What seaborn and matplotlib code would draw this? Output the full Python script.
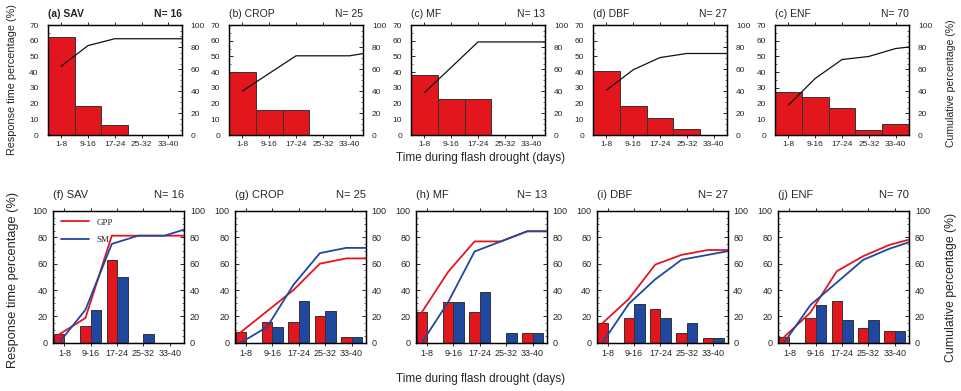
import numpy as np
import pandas as pd
import matplotlib
matplotlib.use("Agg")
import matplotlib.pyplot as plt
import seaborn as sns
from matplotlib.ticker import MultipleLocator, AutoMinorLocator

# ---------------- data ----------------
categories = ['1-8', '9-16', '17-24', '25-32', '33-40']
top_titles = ['(a) SAV', '(b) CROP', '(c) MF', '(d) DBF', '(c) ENF']
bottom_titles = ['(f) SAV', '(g) CROP', '(h) MF', '(i) DBF', '(j) ENF']
sample_sizes = [16, 25, 13, 27, 70]

# top row: response time percentage per bin
top_sav = [62.5, 18.75, 6.25, 0, 0]
top_crop = [40, 16, 16, 0, 0]
top_mf = [38.5, 23.1, 23.1, 0, 0]
top_dbf = [40.7, 18.5, 11.1, 3.7, 0]
top_enf = [27.1, 24.3, 17.1, 2.9, 7.1]
# top row cumulative (5 bins + beyond 40 days)
topcum_sav = [62.5, 81.25, 87.5, 87.5, 87.5, 87.5]
topcum_crop = [40, 56, 72, 72, 72, 76]
topcum_mf = [38.5, 61.5, 84.6, 84.6, 84.6, 84.6]
topcum_dbf = [40.7, 59.3, 70.4, 74.1, 74.1, 74.1]
topcum_enf = [27.1, 51.4, 68.6, 71.4, 78.6, 81.4]

# bottom row: GPP and SM percentages
gpp_sav = [6.25, 12.5, 62.5, 0, 0]
gpp_crop = [8, 16, 16, 20, 4]
gpp_mf = [23.1, 30.8, 23.1, 0, 7.7]
gpp_dbf = [14.8, 18.5, 25.9, 7.4, 3.7]
gpp_enf = [4.3, 18.6, 31.4, 11.4, 8.6]
sm_sav = [0, 25, 50, 6.25, 0]
sm_crop = [0, 12, 32, 24, 4]
sm_mf = [0, 30.8, 38.5, 7.7, 7.7]
sm_dbf = [0, 29.6, 18.5, 14.8, 3.7]
sm_enf = [0, 28.6, 17.1, 17.1, 8.6]
# bottom row cumulative (5 bins + beyond 40 days)
gppcum_sav = [6.25, 18.75, 81.25, 81.25, 81.25, 81.25]
gppcum_crop = [8, 24, 40, 60, 64, 64]
gppcum_mf = [23.1, 53.8, 76.9, 76.9, 84.6, 84.6]
gppcum_dbf = [14.8, 33.3, 59.3, 66.7, 70.4, 70.4]
gppcum_enf = [4.3, 22.9, 54.3, 65.7, 74.3, 79.6]
smcum_sav = [0, 25, 75, 81.25, 81.25, 87.5]
smcum_crop = [0, 12, 44, 68, 72, 72]
smcum_mf = [0, 30.8, 69.2, 76.9, 84.6, 84.6]
smcum_dbf = [0, 29.6, 48.1, 63.0, 66.7, 70.4]
smcum_enf = [0, 28.6, 45.7, 62.9, 71.4, 78.0]

top_vals = [top_sav, top_crop, top_mf, top_dbf, top_enf]
top_cums = [topcum_sav, topcum_crop, topcum_mf, topcum_dbf, topcum_enf]
gpp_vals = [gpp_sav, gpp_crop, gpp_mf, gpp_dbf, gpp_enf]
sm_vals = [sm_sav, sm_crop, sm_mf, sm_dbf, sm_enf]
gpp_cums = [gppcum_sav, gppcum_crop, gppcum_mf, gppcum_dbf, gppcum_enf]
sm_cums = [smcum_sav, smcum_crop, smcum_mf, smcum_dbf, smcum_enf]

# ---------------- style ----------------
sns.set_style("ticks")
plt.rcParams['font.family'] = ['Liberation Sans', 'DejaVu Sans']
RED = '#E3161E'
BLUE = '#1F48A0'
EDGE = '#333333'

W, H = 961, 391
fig = plt.figure(figsize=(W / 100, H / 100), dpi=100)


def px_axes(left, top, right, bottom):
    return fig.add_axes([left / W, 1 - bottom / H, (right - left) / W, (bottom - top) / H])


def style_axes(ax, ax2, ymax_left, ymaj_left, ypad, tfs):
    ax.tick_params(axis='x', which='major', direction='out', top=True, bottom=True,
                   length=2.5, width=0.7, pad=2, labelsize=tfs)
    ax.tick_params(axis='x', which='minor', bottom=False, top=False)
    ax.tick_params(axis='y', which='major', direction='in', left=True, right=False,
                   length=3, width=0.7, pad=ypad, labelsize=tfs)
    ax.tick_params(axis='y', which='minor', direction='in', left=True, right=False,
                   length=1.5, width=0.5)
    ax2.tick_params(axis='y', which='major', direction='in', right=True, left=False,
                    length=3, width=0.7, pad=ypad, labelsize=tfs)
    ax2.tick_params(axis='y', which='minor', direction='in', right=True, left=False,
                    length=1.5, width=0.5)
    ax.set_ylim(0, ymax_left)
    ax.yaxis.set_major_locator(MultipleLocator(ymaj_left))
    ax.yaxis.set_minor_locator(AutoMinorLocator(2 if ymaj_left == 10 else 4))
    ax2.set_ylim(0, 100)
    ax2.yaxis.set_major_locator(MultipleLocator(20))
    ax2.yaxis.set_minor_locator(AutoMinorLocator(4))
    for a in (ax, ax2):
        for s in a.spines.values():
            s.set_linewidth(0.9)
            s.set_color('black')
        a.set_xlabel('')
        a.set_ylabel('')


# ---------------- top row ----------------
top_lefts = [47.7, 229, 411, 593, 775]
for i in range(5):
    ax = px_axes(top_lefts[i], 25, top_lefts[i] + 134, 135)
    sns.barplot(x=categories, y=top_vals[i], ax=ax, color=RED, saturation=1,
                width=1.0, edgecolor=EDGE, linewidth=0.7)
    ax2 = ax.twinx()
    sns.lineplot(x=np.arange(6), y=top_cums[i], ax=ax2, color='#111111',
                 linewidth=0.9, sort=False)
    ax.set_xlim(-0.5, 4.5)
    style_axes(ax, ax2, 70, 10, 6.5, 6)
    fw = 'bold' if i == 0 else 'normal'
    ax.set_title(top_titles[i], loc='left', fontsize=7.5, pad=5.5, fontweight=fw)
    ax.set_title('N= %d' % sample_sizes[i], loc='right', fontsize=7.5, pad=5.5, fontweight=fw)

# ---------------- bottom row ----------------
bot_lefts = [53.3, 235, 416, 596.7, 778.3]
for i in range(5):
    ax = px_axes(bot_lefts[i], 211, bot_lefts[i] + 131, 342.7)
    df = pd.DataFrame({
        'bin': categories * 2,
        'var': ['GPP'] * 5 + ['SM'] * 5,
        'val': list(gpp_vals[i]) + list(sm_vals[i]),
    })
    sns.barplot(data=df, x='bin', y='val', hue='var', palette=[RED, BLUE],
                saturation=1, width=0.8, edgecolor=EDGE, linewidth=0.7,
                legend=False, ax=ax)
    ax2 = ax.twinx()
    xs = np.arange(6) - 0.2
    sns.lineplot(x=xs, y=gpp_cums[i], ax=ax2, color=RED, linewidth=1.3,
                 sort=False, label='GPP')
    sns.lineplot(x=xs, y=sm_cums[i], ax=ax2, color=BLUE, linewidth=1.3,
                 sort=False, label='SM')
    ax.set_xlim(-0.42, 4.55)
    style_axes(ax, ax2, 100, 20, 4, 6.5)
    ax.set_title(bottom_titles[i], loc='left', fontsize=8, pad=9)
    ax.set_title('N= %d' % sample_sizes[i], loc='right', fontsize=8, pad=9)
    if i == 0:
        ax2.legend(loc='upper left', frameon=False, handlelength=3.2,
                   prop={'family': 'Liberation Serif', 'size': 6.5},
                   borderaxespad=0.4, labelspacing=1.0, handletextpad=0.8)
    else:
        leg = ax2.get_legend()
        if leg is not None:
            leg.remove()

# ---------------- figure labels ----------------
fig.text(0.5, 1 - 158 / H, 'Time during flash drought (days)', ha='center', va='center', fontsize=8.5)
fig.text(0.5, 1 - 379 / H, 'Time during flash drought (days)', ha='center', va='center', fontsize=8.5)
fig.text(12 / W, 1 - 80 / H, 'Response time percentage (%)', rotation=90, ha='center', va='center', fontsize=7.8)
fig.text(13 / W, 1 - 280 / H, 'Response time percentage (%)', rotation=90, ha='center', va='center', fontsize=9.2)
fig.text(951 / W, 1 - 83 / H, 'Cumulative percentage (%)', rotation=90, ha='center', va='center', fontsize=7.6)
fig.text(951 / W, 1 - 287 / H, 'Cumulative percentage (%)', rotation=90, ha='center', va='center', fontsize=8.8)

fig.savefig('out.png', dpi=100)
